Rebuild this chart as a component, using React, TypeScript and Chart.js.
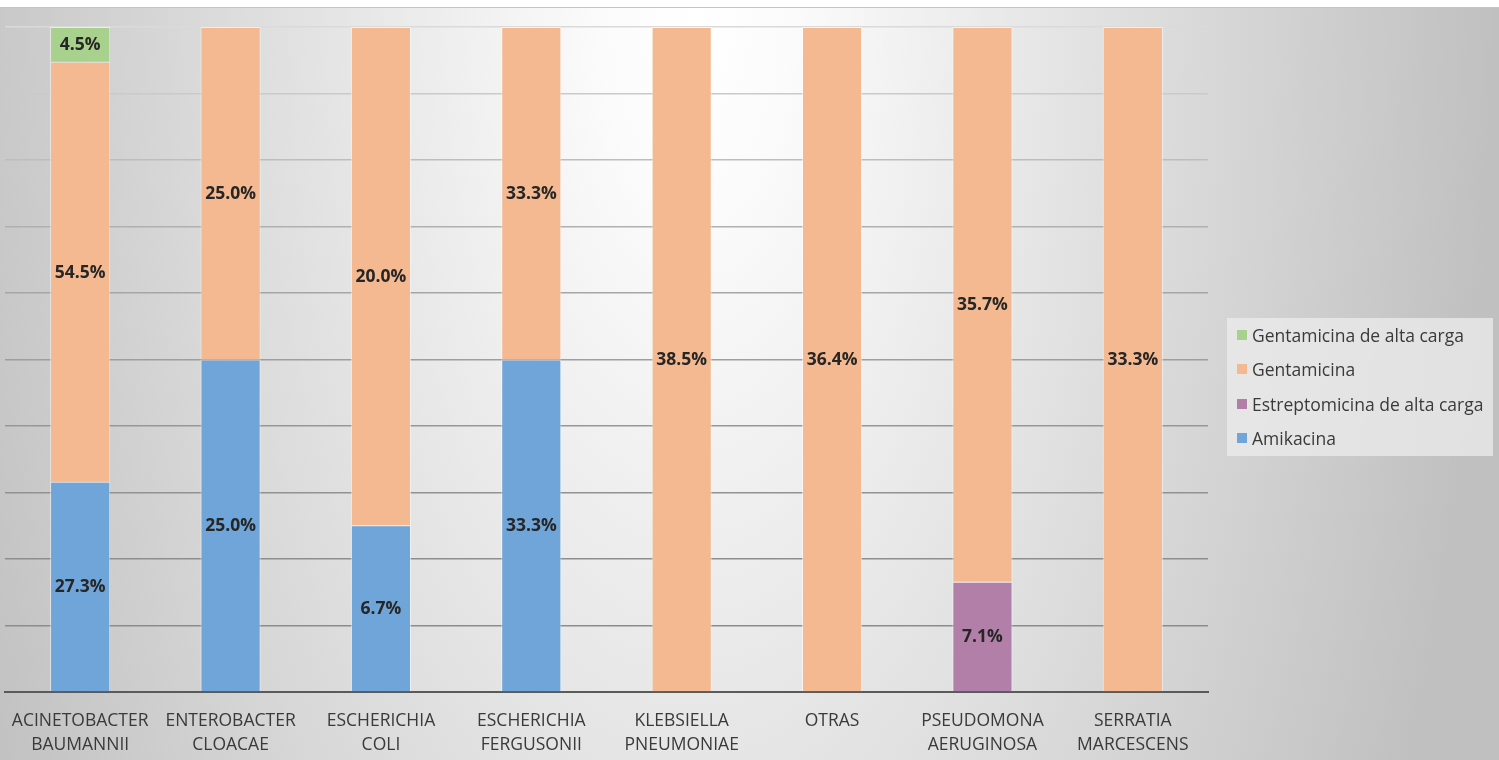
import React, { useEffect, useRef } from "react";
import { Chart, registerables } from "chart.js";

Chart.register(...registerables);

const categories: string[][] = [
  ["ACINETOBACTER", "BAUMANNII"],
  ["ENTEROBACTER", "CLOACAE"],
  ["ESCHERICHIA", "COLI"],
  ["ESCHERICHIA", "FERGUSONII"],
  ["KLEBSIELLA", "PNEUMONIAE"],
  ["OTRAS"],
  ["PSEUDOMONA", "AERUGINOSA"],
  ["SERRATIA", "MARCESCENS"],
];

const amikacina = [27.3, 25.0, 6.7, 33.3, 0, 0, 0, 0];
const estreptomicinaAlta = [0, 0, 0, 0, 0, 0, 7.1, 0];
const gentamicina = [54.5, 25.0, 20.0, 33.3, 38.5, 36.4, 35.7, 33.3];
const gentamicinaAlta = [4.5, 0, 0, 0, 0, 0, 0, 0];

const seriesNames = [
  "Amikacina",
  "Estreptomicina de alta carga",
  "Gentamicina",
  "Gentamicina de alta carga",
];
const seriesValues = [amikacina, estreptomicinaAlta, gentamicina, gentamicinaAlta];
const seriesColors = ["#6fa5d8", "#b27fa8", "#f4b990", "#a8d18d"];

const totals = categories.map((_, i) =>
  seriesValues.reduce((s, arr) => s + arr[i], 0)
);

const FONT = "'Open Sans', 'Noto Sans', sans-serif";

const segmentLabels = {
  id: "segmentLabels",
  afterDatasetsDraw(chart: any) {
    const ctx = chart.ctx;
    ctx.save();
    ctx.font = `bold 17.5px ${FONT}`;
    ctx.fillStyle = "#262626";
    ctx.textAlign = "center";
    ctx.textBaseline = "middle";
    chart.data.datasets.forEach((ds: any, di: number) => {
      const meta = chart.getDatasetMeta(di);
      meta.data.forEach((el: any, i: number) => {
        const raw = ds.rawValues[i];
        if (!raw) return;
        const { x, y, base } = el.getProps(["x", "y", "base"], true);
        ctx.fillText(raw.toFixed(1) + "%", x, (y + base) / 2 + 1);
      });
    });
    ctx.restore();
  },
};

const gridShades = [
  "rgba(0,0,0,0)",
  "#8c8c8c",
  "#8e8e8e",
  "#929292",
  "#979797",
  "#9e9e9e",
  "#a6a6a6",
  "#b0b0b0",
  "#bdbdbd",
  "#cacaca",
  "#dadada",
];

export default function App() {
  const canvasRef = useRef<HTMLCanvasElement | null>(null);

  useEffect(() => {
    if (!canvasRef.current) return;
    const chart = new Chart(canvasRef.current, {
      type: "bar",
      data: {
        labels: categories,
        datasets: seriesNames.map((name, k) => ({
          label: name,
          data: seriesValues[k].map((v, i) => (v / totals[i]) * 100),
          rawValues: seriesValues[k],
          backgroundColor: seriesColors[k],
          borderColor: "rgba(255,255,255,0.55)",
          borderWidth: 1,
          barPercentage: 0.4,
          categoryPercentage: 1,
        })) as any,
      },
      options: {
        animation: false,
        responsive: false,
        maintainAspectRatio: false,
        layout: { padding: { left: 5, right: 291, top: 27, bottom: 0 } },
        plugins: {
          legend: { display: false },
          tooltip: { enabled: false },
        },
        scales: {
          x: {
            stacked: true,
            grid: { display: false, drawTicks: false },
            border: { display: true, color: "#5a5a5a", width: 2 },
            ticks: {
              color: "#3a3a3a",
              font: { family: FONT, size: 17.5, lineHeight: "24px" as any },
              padding: 17,
              maxRotation: 0,
              autoSkip: false,
            },
            afterFit(scale: any) {
              scale.height = 68;
              scale.paddingLeft = 0;
              scale.paddingRight = 0;
            },
          },
          y: {
            stacked: true,
            min: 0,
            max: 100,
            ticks: { display: false, stepSize: 10 },
            border: { display: false },
            grid: {
              drawTicks: false,
              lineWidth: 1.5,
              color: (c: any) => gridShades[Math.round((c.tick?.value ?? 0) / 10)] || "#aaa",
            },
            afterFit(scale: any) {
              scale.width = 0;
            },
          },
        },
      },
      plugins: [segmentLabels],
    });
    return () => chart.destroy();
  }, []);

  const legendItems = [...seriesNames.map((n, k) => ({ n, c: seriesColors[k] }))].reverse();

  return (
    <div
      style={{
        position: "fixed",
        left: 0,
        top: 0,
        width: 1499,
        height: 760,
        background: "#ffffff",
        overflow: "hidden",
      }}
    >
      <div
        style={{
          position: "absolute",
          left: 0,
          top: 7,
          width: 1499,
          height: 753,
          borderTop: "1px solid #c4c4c4",
          background:
            "radial-gradient(ellipse 800px 1700px at 695px 0px, #ffffff 0%, #fbfbfb 12%, #c0c0c0 100%)",
        }}
      />
      <canvas
        ref={canvasRef}
        width={1499}
        height={760}
        style={{ position: "absolute", left: 0, top: 0, width: 1499, height: 760 }}
      />
      <div
        style={{
          position: "absolute",
          left: 1227,
          top: 318,
          width: 266,
          height: 138,
          background: "rgba(236,236,236,0.75)",
          fontFamily: FONT,
          fontSize: 17.5,
          color: "#3a3a3a",
        }}
      >
        {legendItems.map((it, i) => (
          <div
            key={it.n}
            style={{
              position: "absolute",
              left: 10,
              top: 6 + i * 34.4,
              height: 22,
              display: "flex",
              alignItems: "center",
              whiteSpace: "nowrap",
            }}
          >
            <span
              style={{
                display: "inline-block",
                width: 10,
                height: 10,
                background: it.c,
                marginRight: 5,
              }}
            />
            <span>{it.n}</span>
          </div>
        ))}
      </div>
    </div>
  );
}
